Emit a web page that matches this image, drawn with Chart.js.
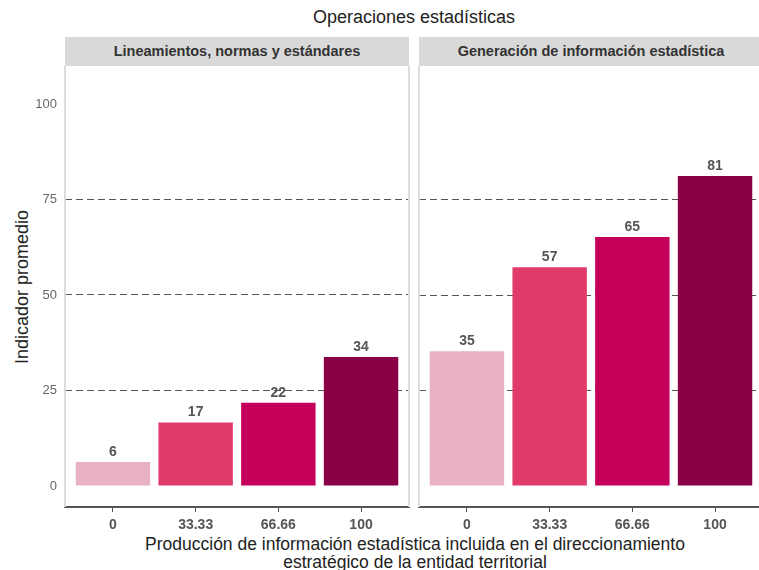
<!DOCTYPE html>
<html>
<head>
<meta charset="utf-8">
<script src="https://cdn.jsdelivr.net/npm/chart.js@4"></script>
<style>
  body { margin: 0; background: #fff; font-family: "Liberation Sans", Arial, sans-serif; }
  #page { position: relative; width: 759px; height: 570px; overflow: hidden; }
  .abs { position: absolute; }
  .strip { background: #d9d9d9; top: 37px; height: 29px; line-height: 29px; text-align: center;
           font-weight: bold; font-size: 14.5px; color: #333; }
</style>
</head>
<body>
<div id="page">
  <div class="abs" style="left:0;width:828px;top:7px;text-align:center;font-size:18px;color:#222;">Operaciones estadísticas</div>
  <div class="abs strip" style="left:65px;width:344px;">Lineamientos, normas y estándares</div>
  <div class="abs strip" style="left:419px;width:344px;">Generación de información estadística</div>
  <div class="abs" style="left:22px;top:287px;transform:translate(-50%,-50%) rotate(-90deg);white-space:nowrap;font-size:18px;color:#222;">Indicador promedio</div>
  <div class="abs" style="left:0;width:830px;top:535px;text-align:center;font-size:17.5px;line-height:18px;color:#222;">Producción de información estadística incluida en el direccionamiento<br>estratégico de la entidad territorial</div>
  <div class="abs" style="left:0;top:50px;width:414px;height:490px;"><canvas id="panel1"></canvas></div>
  <div class="abs" style="left:414px;top:66px;width:351px;height:474px;"><canvas id="panel2"></canvas></div>
</div>
<script>
// Categorías y valores
const categorias = ["0", "33.33", "66.66", "100"];
const lineamientos = [6.3, 16.6, 21.8, 33.8];
const generacion = [35.3, 57.3, 65.2, 81.2];
const yTicks = [0, 25, 50, 75, 100];
const colores = ["#e8b1c4", "#e03b6b", "#c4005a", "#8a0047"];

// Etiquetas encima de las barras
const etiquetas = {
  id: "etiquetas",
  afterDatasetsDraw(chart) {
    const ctx = chart.ctx;
    ctx.save();
    ctx.font = "bold 14px 'Liberation Sans', Arial, sans-serif";
    ctx.fillStyle = "#555";
    ctx.textAlign = "center";
    ctx.textBaseline = "bottom";
    chart.getDatasetMeta(0).data.forEach((bar, i) => {
      ctx.fillText(Math.round(chart.data.datasets[0].data[i].y), bar.x, bar.y - 3);
    });
    ctx.restore();
  }
};

// Borde gris claro del panel
const bordePanel = {
  id: "bordePanel",
  beforeDatasetsDraw(chart) {
    const a = chart.chartArea, ctx = chart.ctx;
    ctx.save();
    ctx.strokeStyle = "#dcdcdc";
    ctx.lineWidth = 2;
    ctx.beginPath();
    ctx.moveTo(a.left, a.top); ctx.lineTo(a.left, a.bottom);
    ctx.moveTo(a.right, a.top); ctx.lineTo(a.right, a.bottom);
    ctx.stroke();
    ctx.restore();
  }
};

function crearPanel(id, valores, mostrarY, ancho, derecha) {
  new Chart(document.getElementById(id), {
    type: "bar",
    data: {
      datasets: [{
        data: valores.map((v, i) => ({ x: i, y: v })),
        backgroundColor: colores,
        categoryPercentage: 0.9,
        barPercentage: 1.0
      }]
    },
    options: {
      responsive: true,
      maintainAspectRatio: false,
      animation: false,
      layout: { padding: { top: 0, right: derecha, left: 0, bottom: 0 } },
      plugins: { legend: { display: false }, tooltip: { enabled: false } },
      scales: {
        x: {
          type: "linear",
          min: -0.58,
          max: 3.58,
          offset: false,
          afterBuildTicks: s => { s.ticks = categorias.map((c, i) => ({ value: i })); },
          afterFit: s => { s.height = 33; },
          ticks: {
            callback: v => categorias[v],
            font: { family: "'Liberation Sans', Arial, sans-serif", size: 14, weight: "bold" },
            color: "#555",
            padding: 5,
            maxRotation: 0
          },
          grid: { offset: false, drawOnChartArea: false, drawTicks: true, tickLength: 5, color: "#555", lineWidth: 1 },
          border: { color: "#555", width: 2 }
        },
        y: {
          min: -5.5,
          max: 110,
          z: 1,
          afterBuildTicks: s => { s.ticks = yTicks.map(v => ({ value: v })); },
          afterFit: s => { s.width = ancho; },
          ticks: {
            display: mostrarY,
            font: { family: "'Liberation Sans', Arial, sans-serif", size: 13 },
            color: "#666",
            padding: 8
          },
          grid: {
            drawTicks: false,
            color: c => (c.tick && [25, 50, 75].includes(c.tick.value)) ? "#555" : "rgba(0,0,0,0)",
            lineWidth: 1
          },
          border: { display: false, dash: [7, 4] }
        }
      }
    },
    plugins: [etiquetas, bordePanel]
  });
}

crearPanel("panel1", lineamientos, true, 65, 5);
crearPanel("panel2", generacion, false, 5, 2);
</script>
</body>
</html>
